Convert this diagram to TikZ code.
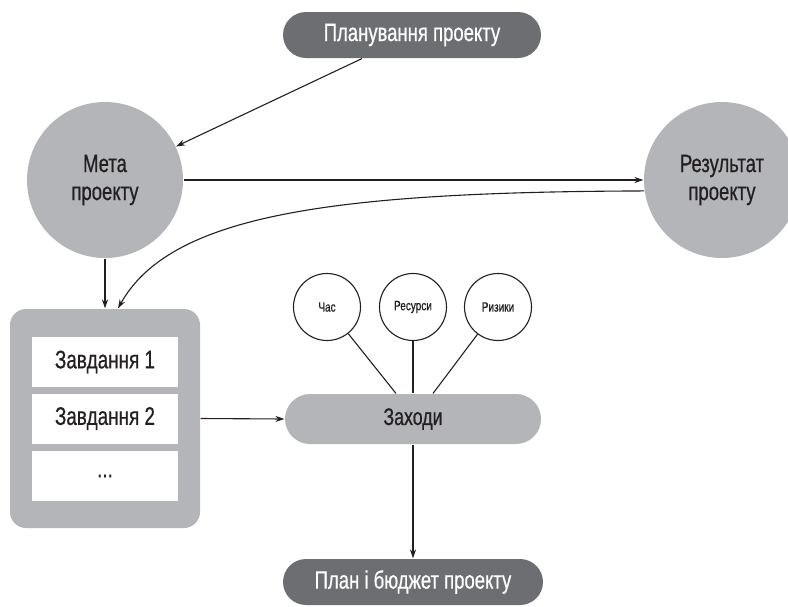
\documentclass[tikz,border=0pt]{standalone}
\usepackage{fontspec}
\setmainfont{Liberation Sans}[FakeStretch=0.74, BoldFont=Liberation Sans, BoldFeatures={FakeBold=0.6}]
\usetikzlibrary{arrows.meta}
\definecolor{pilldark}{HTML}{6D6E71}
\definecolor{filllight}{HTML}{B4B5B8}
\definecolor{inktext}{HTML}{231F20}

\begin{document}
\begin{tikzpicture}[x = 1pt, y = -1pt, line width = 1.1pt, draw = inktext,
    toppill/.style = {fill=pilldark, text=white, rounded corners=23pt, minimum width=258pt, minimum height=46pt, font=\bfseries\fontsize{25}{27}\selectfont},
    midpill/.style = {fill=filllight, text=inktext, rounded corners=25pt, minimum width=256pt, minimum height=50pt, font=\bfseries\fontsize{24}{26}\selectfont},
    goal/.style = {circle, fill=filllight, text=inktext, minimum size=156pt, inner sep=0pt, align=center, font=\bfseries\fontsize{25}{28}\selectfont},
    factor/.style = {circle, draw, fill=white, text=inktext, minimum size=67pt, inner sep=0pt, font=\bfseries\fontsize{13.5}{15}\selectfont},
    task/.style = {fill=white, text=inktext, minimum width=146pt, minimum height=50pt, font=\bfseries\fontsize{25.5}{27}\selectfont},
    arr/.style = {-{Stealth[length=9pt,width=6pt]}},]
		\useasboundingbox (0,0) rectangle (788,606);

		\node[toppill] (plan) at (412,35) {Планування проекту};
		\node[goal] (meta) at (105,180) {Мета\\проекту};
		\node[goal] (result) at (722,180) {Результат\\проекту};

		\node[fill=filllight, rounded corners=16pt, minimum width=190pt, minimum height=219pt] (tasks) at (105,418.5) {};
		\node[task] (t1) at (105,362) {Завдання 1};
		\node[task] (t2) at (105,418.5) {Завдання 2};
		\node[task] (t3) at (105,476) {...};

		\node[factor] (time) at (327,307) {Час};
		\node[factor] (res) at (413,307) {Ресурси};
		\node[factor] (risk) at (498,307) {Ризики};
		\node[midpill] (steps) at (413,419) {Заходи};
		\node[toppill, minimum width=260pt] (budget) at (413,582) {План і бюджет проекту};

		\draw[arr] ([xshift=-50pt]plan.south) -- (meta);
		\draw[arr] (meta) -- (result);
		\draw[arr] (result.188) .. controls (330,192) and (170,215) .. ([xshift=13pt]tasks.north);
		\draw[arr] (meta) -- (tasks);
		\draw[arr] (tasks.east) -- (steps.west);
		\draw (time) -- ([xshift=-17pt]steps.north);
		\draw (res) -- (steps);
		\draw (risk) -- ([xshift=20pt]steps.north);
		\draw[arr] (steps) -- (budget);
	\end{tikzpicture}
\end{document}
